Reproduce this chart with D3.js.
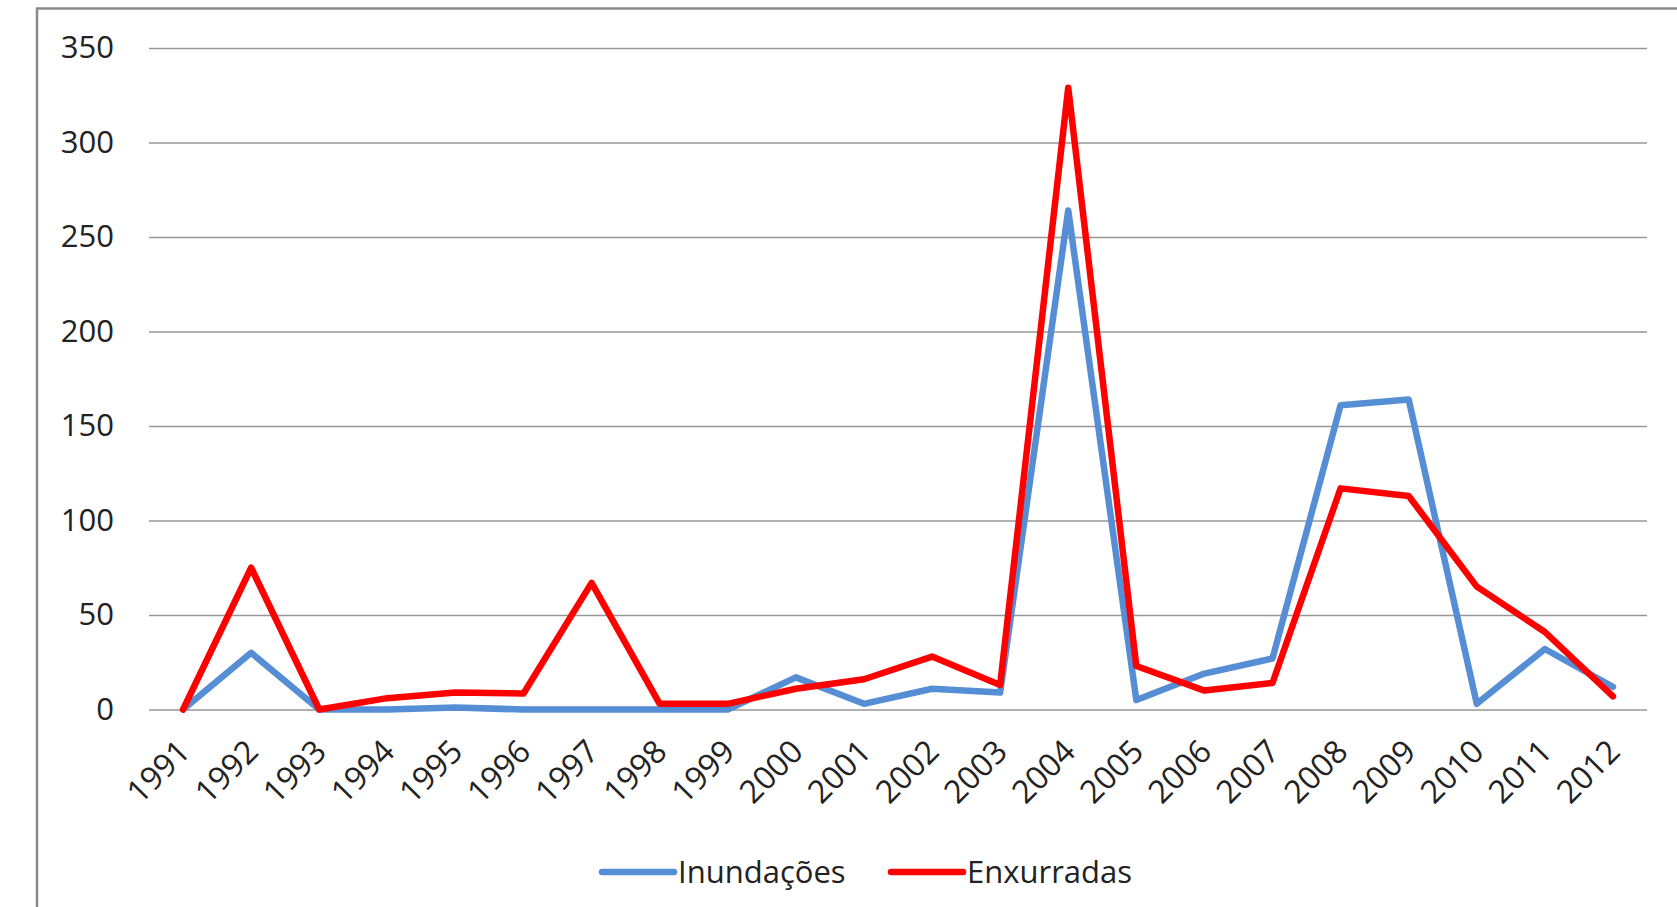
<!DOCTYPE html>
<html>
<head>
<meta charset="utf-8">
<script src="https://cdn.jsdelivr.net/npm/d3@7"></script>
<style>
  body { margin: 0; background: #fff; }
  text { font-family: "Open Sans", sans-serif; fill: #222; }
</style>
</head>
<body>
<svg id="chart" width="1677" height="907"></svg>
<script>
const years = ["1991", "1992", "1993", "1994", "1995", "1996", "1997", "1998", "1999", "2000", "2001",
    "2002", "2003", "2004", "2005", "2006", "2007", "2008", "2009", "2010", "2011", "2012"];
const inundacoes = [0, 30, 0, 0, 1, 0, 0, 0, 0, 17, 3, 11, 9, 264, 5, 19, 27, 161, 164, 3, 32, 12];
const enxurradas = [0, 75, 0, 6, 9, 8.5, 67, 3, 3, 11, 16, 28, 13, 329, 23, 10, 14, 117, 113, 65, 41, 7];
const yTicks = [0, 50, 100, 150, 200, 250, 300, 350];
const seriesNames = ["Inundações", "Enxurradas"];
const seriesColors = ["#558ed5", "#ff0000"];

const svg = d3.select("#chart");

// outer frame (runs off the right and bottom edges)
svg.append("rect")
    .attr("x", 37).attr("y", 8.5)
    .attr("width", 1700).attr("height", 950)
    .attr("fill", "none")
    .attr("stroke", "#8a8a8a")
    .attr("stroke-width", 2.5);

let plot_left = 149, plot_right = 1647, plot_top = 48, plot_bottom = 709.5;

let xScale = d3.scaleBand().domain(years).range([plot_left, plot_right]);
let yScale = d3.scaleLinear().domain([0, 350]).range([plot_bottom, plot_top]);
let xMap = function (d, i) { return xScale(years[i]) + xScale.bandwidth() / 2; };

// gridlines + y labels
let yAxis = d3.axisLeft(yScale).tickValues(yTicks).tickSize(-(plot_right - plot_left)).tickPadding(35);
let gy = svg.append("g").attr("transform", "translate(" + plot_left + ",0)").call(yAxis);
gy.select(".domain").remove();
gy.selectAll(".tick line").attr("stroke", "#969696").attr("stroke-width", 1.6);
gy.selectAll(".tick text")
    .attr("font-size", 31)
    .attr("font-family", "Open Sans")
    .attr("fill", "#1a1a1a");

// x labels, rotated
let xAxis = d3.axisBottom(xScale).tickSize(0).tickPadding(0);
let gx = svg.append("g").attr("transform", "translate(0," + plot_bottom + ")").call(xAxis);
gx.select(".domain").remove();
gx.selectAll(".tick text")
    .attr("font-size", 32)
    .attr("font-family", "Open Sans")
    .attr("fill", "#1a1a1a")
    .attr("text-anchor", "end")
    .attr("dy", null)
    .attr("y", 0)
    .attr("transform", "translate(9,44) rotate(-45)");

// lines
let line = d3.line().x(function (d, i) { return xMap(d, i); }).y(function (d) { return yScale(d); });
[inundacoes, enxurradas].forEach(function (data, k) {
    svg.append("path")
        .datum(data)
        .attr("d", line)
        .attr("fill", "none")
        .attr("stroke", seriesColors[k])
        .attr("stroke-width", 6.5)
        .attr("stroke-linejoin", "round")
        .attr("stroke-linecap", "round");
});

// legend
let legendX = [602, 891];
seriesNames.forEach(function (name, k) {
    let g = svg.append("g").attr("transform", "translate(" + legendX[k] + ",872)");
    g.append("line")
        .attr("x1", 0).attr("x2", 72)
        .attr("stroke", seriesColors[k])
        .attr("stroke-width", 6.5)
        .attr("stroke-linecap", "round");
    g.append("text")
        .attr("x", 76).attr("y", 11)
        .attr("font-size", 31)
        .attr("fill", "#1a1a1a")
        .text(name);
});
</script>
</body>
</html>
